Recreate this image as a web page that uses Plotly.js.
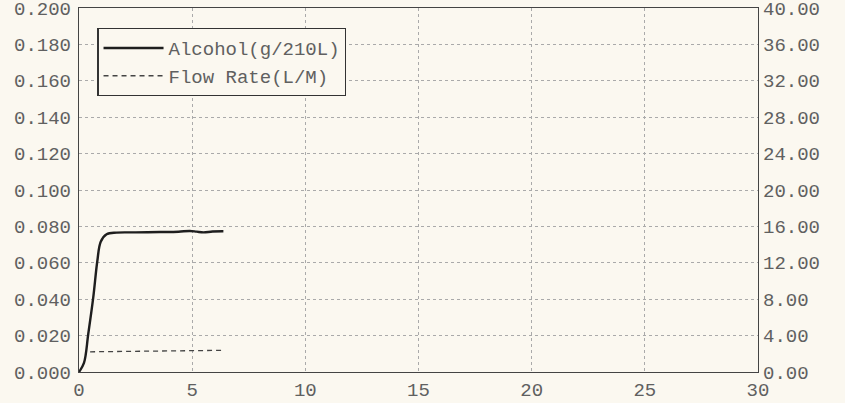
<!DOCTYPE html>
<html>
<head>
<meta charset="utf-8">
<script src="https://cdn.plot.ly/plotly-3.0.1.min.js"></script>
<style>html,body{margin:0;padding:0;background:#fbf8f0;}#chart{width:845px;height:403px;}</style>
</head>
<body>
<div id="chart"></div>
<script>
// Alcohol (g/210L) vs time
const alcoholTime = [0, 0.22, 0.41, 0.63, 0.81, 0.96, 1.22, 1.66, 2.5, 3.58, 4.4, 4.9, 5.2, 5.5, 5.9, 6.38];
const alcoholValue = [0, 0.005, 0.021, 0.041, 0.061, 0.0716, 0.0757, 0.0766, 0.0767, 0.0769, 0.0771, 0.0775, 0.0771, 0.0767, 0.0772, 0.0773];
// Flow rate (L/M) vs time
const flowTime = [0.49, 2.0, 4.0, 5.5, 6.4];
const flowValue = [2.22, 2.25, 2.3, 2.35, 2.38];

const leftTicks = [0, 0.02, 0.04, 0.06, 0.08, 0.10, 0.12, 0.14, 0.16, 0.18, 0.20];
const rightTicks = [0, 4, 8, 12, 16, 20, 24, 28, 32, 36, 40];
const xTicks = [0, 5, 10, 15, 20, 25, 30];

const font = {family: '"Liberation Mono", "Courier New", monospace', size: 19, color: '#606060'};

const data = [
  {x: alcoholTime, y: alcoholValue, name: 'Alcohol(g/210L)', mode: 'lines', line: {color: '#1e1e1e', width: 2.4, shape: 'spline'}, yaxis: 'y'},
  {x: flowTime, y: flowValue, name: 'Flow Rate(L/M)', mode: 'lines', line: {color: '#444', width: 1.3, dash: '5px,4px'}, yaxis: 'y2'}
];

const layout = {
  width: 845, height: 403,
  margin: {l: 79, r: 87, t: 8, b: 31},
  paper_bgcolor: '#fbf8f0', plot_bgcolor: '#fbf8f0',
  font: font,
  showlegend: true,
  legend: {x: 0.027, y: 0.945, xanchor: 'left', yanchor: 'top', bgcolor: '#fbf8f0', bordercolor: '#333', borderwidth: 1.2, font: font, tracegroupgap: 0, itemwidth: 60},
  xaxis: {range: [0, 30], tickvals: xTicks, ticktext: xTicks.map(String), showgrid: true, gridcolor: '#aaa', griddash: 'dot', gridwidth: 1, zeroline: false, showline: true, linecolor: '#444', linewidth: 1.2, mirror: true, ticks: '', tickfont: font},
  yaxis: {range: [0, 0.2], tickvals: leftTicks, ticktext: leftTicks.map(v => v.toFixed(3)), showgrid: true, gridcolor: '#aaa', griddash: 'dot', gridwidth: 1, zeroline: false, showline: true, linecolor: '#444', linewidth: 1.2, ticks: '', tickfont: font, ticklabeloverflow: 'allow', ticklabelstandoff: 3},
  yaxis2: {range: [0, 40], overlaying: 'y', side: 'right', tickvals: rightTicks, ticktext: rightTicks.map(v => v.toFixed(2)), showgrid: false, zeroline: false, showline: true, linecolor: '#444', linewidth: 1.2, ticks: '', tickfont: font, ticklabeloverflow: 'allow'}
};

Plotly.newPlot('chart', data, layout, {displayModeBar: false, staticPlot: true});
</script>
</body>
</html>
